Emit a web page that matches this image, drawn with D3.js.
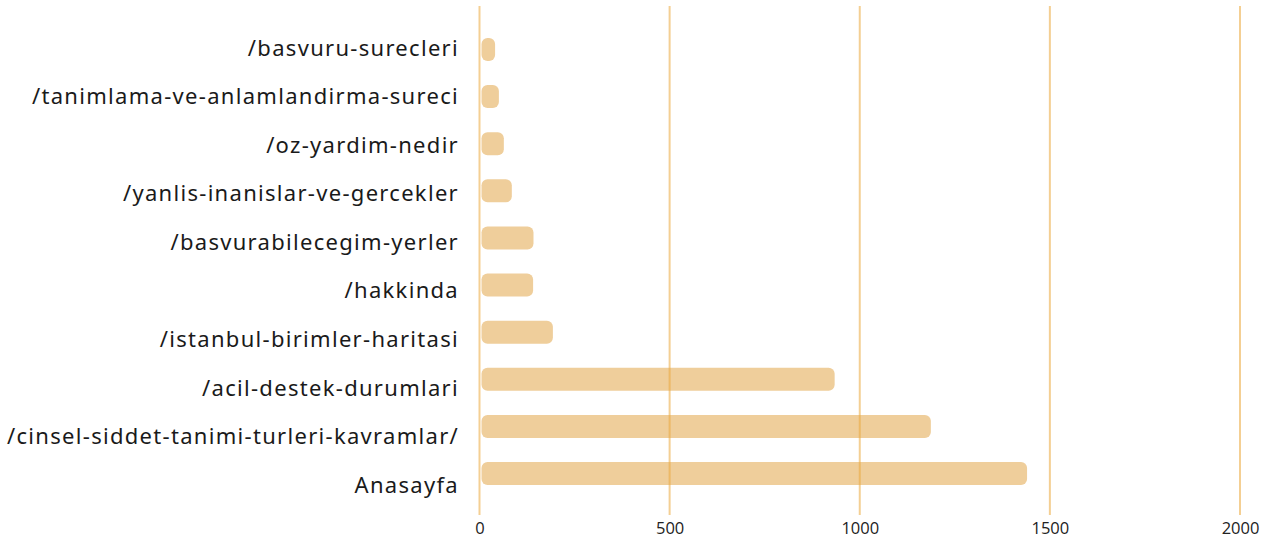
<!DOCTYPE html>
<html>
<head>
<meta charset="utf-8">
<script src="https://cdn.jsdelivr.net/npm/d3@7"></script>
<style>
  html, body { margin: 0; padding: 0; background: #fff; }
  .label { font-family: "Noto Sans", sans-serif; font-size: 22px; letter-spacing: 1.3px; fill: #1a1a1a; }
  .tick text { font-family: "Open Sans", sans-serif; font-size: 16.5px; fill: #222; }
</style>
</head>
<body>
<div id="chart"></div>
<script>
(function(d3) {
  // pages, top to bottom
  var pages = [
    "/basvuru-surecleri",
    "/tanimlama-ve-anlamlandirma-sureci",
    "/oz-yardim-nedir",
    "/yanlis-inanislar-ve-gercekler",
    "/basvurabilecegim-yerler",
    "/hakkinda",
    "/istanbul-birimler-haritasi",
    "/acil-destek-durumlari",
    "/cinsel-siddet-tanimi-turleri-kavramlar/",
    "Anasayfa"
  ];
  var views = [41, 51, 64, 85, 142, 141, 193, 934, 1187, 1440];
  var xTicks = [0, 500, 1000, 1500, 2000];

  var width = 1266, height = 539;
  var barHeight = 23;

  var data = pages.map(function(p, i) { return { page: p, value: views[i] }; });

  var svg = d3.select("#chart")
    .append("svg")
    .attr("width", width)
    .attr("height", height);

  var x = d3.scaleLinear()
    .domain([0, 2000])
    .range([479.5, 1240]);

  // bar rows
  var y = d3.scalePoint()
    .domain(pages)
    .range([49.5, 473.5]);

  // label rows sit on a slightly wider spacing
  var yLabel = d3.scalePoint()
    .domain(pages)
    .range([48, 485]);

  // bars
  svg.append("g")
    .selectAll("rect")
    .data(data)
    .enter()
    .append("rect")
      .attr("x", x(0) + 2)
      .attr("y", function(d) { return y(d.page) - barHeight / 2; })
      .attr("width", function(d) { return x(d.value) - x(0) - 2; })
      .attr("height", barHeight)
      .attr("rx", 6)
      .attr("fill", "#efce9b");

  // grid lines on top, semi transparent
  svg.append("g")
    .selectAll("line")
    .data(xTicks)
    .enter()
    .append("line")
      .attr("x1", function(d) { return x(d); })
      .attr("x2", function(d) { return x(d); })
      .attr("y1", 6)
      .attr("y2", 515)
      .attr("stroke", "rgba(235,168,58,0.55)")
      .attr("stroke-width", 2);

  // category labels
  svg.append("g")
    .selectAll("text")
    .data(pages)
    .enter()
    .append("text")
      .attr("class", "label")
      .attr("x", 459)
      .attr("y", function(d) { return yLabel(d); })
      .attr("dy", "0.35em")
      .attr("text-anchor", "end")
      .text(function(d) { return d; });

  // x axis
  var xAxis = d3.axisBottom(x)
    .tickValues(xTicks)
    .tickSize(0)
    .tickPadding(0)
    .tickFormat(d3.format("d"));

  var axisG = svg.append("g")
    .attr("transform", "translate(0,534)")
    .call(xAxis);
  axisG.select(".domain").remove();
  axisG.selectAll("text").attr("dy", 0);

})(window.d3);
</script>
</body>
</html>
